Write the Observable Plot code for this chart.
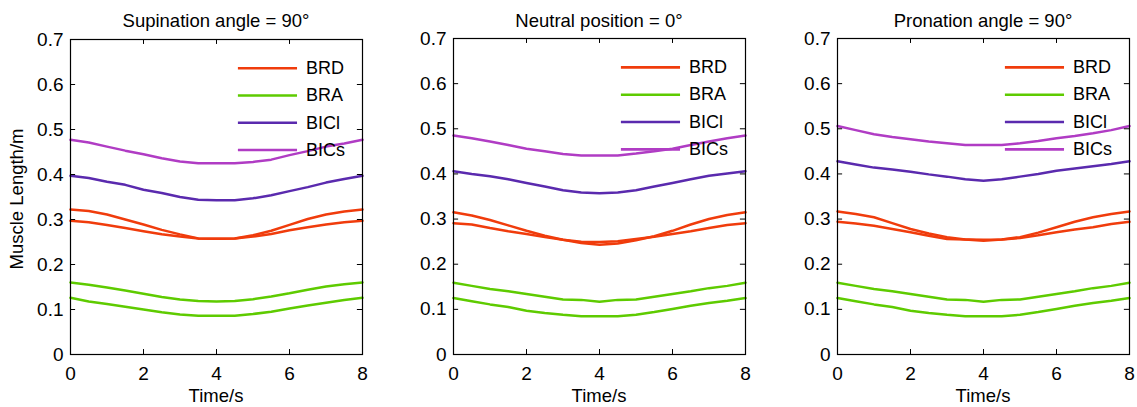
<!DOCTYPE html>
<html><head><meta charset="utf-8">
<script src="https://cdn.jsdelivr.net/npm/d3@7"></script>
<script src="https://cdn.jsdelivr.net/npm/@observablehq/plot@0.6"></script>
<style>
html,body{margin:0;padding:0;background:#fff;}
#wrap{position:relative;width:1137px;height:407px;overflow:hidden;font-family:"Liberation Sans",Arial,sans-serif;}
#wrap svg{position:absolute;top:0;}
.lbl{position:absolute;font-size:18.5px;line-height:1;color:#000;white-space:nowrap;}
</style></head>
<body><div id="wrap"></div>
<script>
const time = [0,0.5,1,1.5,2,2.5,3,3.5,4,4.5,5,5.5,6,6.5,7,7.5,8];
const titles = ["Supination angle = 90°","Neutral position = 0°","Pronation angle = 90°"];
const legendNames = ["BRD","BRA","BICl","BICs"];
const colors = {BRD:"#f03c0c",BRA:"#5ecb00",BICl:"#5a2aae",BICs:"#b03cc4"};
const xTicks = [0,2,4,6,8];
const yTicks = [0,0.1,0.2,0.3,0.4,0.5,0.6,0.7];

// Supination
const sup_BRD1 = [0.322,0.319,0.311,0.300,0.289,0.277,0.267,0.258,0.257,0.258,0.265,0.275,0.288,0.301,0.311,0.318,0.322];
const sup_BRD2 = [0.297,0.294,0.288,0.281,0.274,0.267,0.262,0.258,0.257,0.258,0.262,0.268,0.276,0.283,0.289,0.294,0.297];
const sup_BRA1 = [0.160,0.155,0.149,0.142,0.135,0.128,0.122,0.119,0.118,0.119,0.123,0.129,0.136,0.144,0.151,0.156,0.160];
const sup_BRA2 = [0.126,0.118,0.112,0.106,0.100,0.094,0.089,0.086,0.086,0.086,0.090,0.095,0.102,0.109,0.115,0.121,0.126];
const sup_BICl = [0.397,0.392,0.384,0.377,0.366,0.359,0.350,0.344,0.343,0.343,0.347,0.354,0.363,0.372,0.382,0.390,0.397];
const sup_BICs = [0.477,0.471,0.462,0.453,0.445,0.436,0.429,0.425,0.425,0.425,0.428,0.433,0.443,0.452,0.462,0.469,0.477];
// Neutral
const neu_BRD1 = [0.315,0.308,0.298,0.286,0.274,0.263,0.254,0.247,0.243,0.246,0.253,0.262,0.274,0.288,0.300,0.309,0.315];
const neu_BRD2 = [0.291,0.288,0.280,0.273,0.267,0.260,0.254,0.250,0.249,0.251,0.256,0.261,0.267,0.273,0.280,0.287,0.291];
const neu_BRA1 = [0.159,0.152,0.145,0.140,0.134,0.128,0.122,0.121,0.117,0.121,0.122,0.128,0.134,0.140,0.147,0.152,0.159];
const neu_BRA2 = [0.125,0.118,0.111,0.105,0.097,0.092,0.088,0.085,0.085,0.085,0.088,0.094,0.101,0.108,0.114,0.119,0.125];
const neu_BICl = [0.406,0.400,0.395,0.388,0.380,0.372,0.364,0.359,0.357,0.359,0.364,0.372,0.380,0.388,0.396,0.401,0.406];
const neu_BICs = [0.485,0.479,0.472,0.464,0.456,0.450,0.444,0.441,0.441,0.441,0.445,0.450,0.456,0.464,0.472,0.479,0.485];
// Pronation
const pro_BRD1 = [0.317,0.311,0.304,0.291,0.278,0.268,0.260,0.255,0.252,0.255,0.260,0.270,0.282,0.294,0.304,0.311,0.317];
const pro_BRD2 = [0.294,0.290,0.285,0.278,0.271,0.263,0.256,0.255,0.254,0.255,0.258,0.264,0.271,0.277,0.282,0.289,0.294];
const pro_BRA1 = [0.159,0.152,0.145,0.140,0.134,0.128,0.122,0.121,0.117,0.121,0.122,0.128,0.134,0.140,0.147,0.152,0.159];
const pro_BRA2 = [0.125,0.118,0.111,0.105,0.097,0.092,0.088,0.085,0.085,0.085,0.088,0.094,0.101,0.108,0.114,0.119,0.125];
const pro_BICl = [0.428,0.421,0.414,0.410,0.405,0.399,0.394,0.388,0.385,0.388,0.394,0.400,0.407,0.412,0.417,0.422,0.428];
const pro_BICs = [0.506,0.497,0.488,0.482,0.477,0.472,0.468,0.464,0.464,0.464,0.468,0.473,0.479,0.484,0.490,0.497,0.506];

const panels = [
  {series:[["BRD",sup_BRD1],["BRD",sup_BRD2],["BRA",sup_BRA1],["BRA",sup_BRA2],["BICl",sup_BICl],["BICs",sup_BICs]], left:0, top:39},
  {series:[["BRD",neu_BRD1],["BRD",neu_BRD2],["BRA",neu_BRA1],["BRA",neu_BRA2],["BICl",neu_BICl],["BICs",neu_BICs]], left:383, top:38},
  {series:[["BRD",pro_BRD1],["BRD",pro_BRD2],["BRA",pro_BRA1],["BRA",pro_BRA2],["BICl",pro_BICl],["BICs",pro_BICs]], left:767, top:38}
];

const wrap = document.getElementById("wrap");
const ML = 70, PW = 292, MR = 8, H = 407, MB = 53;

panels.forEach((p, pi) => {
  const rows = [];
  p.series.forEach(([name, vals], si) => vals.forEach((v, i) => rows.push({t: time[i], v, name, id: si})));
  const leg = legendNames.map((n, i) => ({name: n, y: 0.636 - i * 0.0605}));
  const tickLen = 0.011, tickLenX = 0.14;
  const chart = Plot.plot({
    width: ML + PW + MR, height: H,
    marginLeft: ML, marginRight: MR, marginTop: p.top, marginBottom: MB,
    style: {fontFamily: '"Liberation Sans", Arial, sans-serif', fontSize: "19px", background: "transparent", color: "#000"},
    x: {domain: [0, 8], ticks: xTicks, tickSize: 0, tickPadding: 12, label: null},
    y: {domain: [0, 0.7], ticks: yTicks, tickSize: 0, tickPadding: 7, label: null, tickFormat: d => d === 0 ? "0" : d3.format(".1f")(d)},
    marks: [
      Plot.line(rows, {x: "t", y: "v", z: "id", stroke: d => colors[d.name], strokeWidth: 2.5}),
      Plot.ruleY(leg, {x1: 4.6, x2: 6.22, y: "y", stroke: d => colors[d.name], strokeWidth: 2.6}),
      Plot.text(leg, {x: 6.45, y: "y", text: "name", textAnchor: "start", fontSize: 18, fill: "#000"}),
      Plot.ruleX(xTicks, {x: d => d, y1: 0, y2: tickLen, stroke: "#000"}),
      Plot.ruleX(xTicks, {x: d => d, y1: 0.7, y2: 0.7 - tickLen, stroke: "#000"}),
      Plot.ruleY(yTicks, {y: d => d, x1: 0, x2: tickLenX, stroke: "#000"}),
      Plot.ruleY(yTicks, {y: d => d, x1: 8, x2: 8 - tickLenX, stroke: "#000"}),
      Plot.frame({stroke: "#000", strokeWidth: 1.2})
    ]
  });
  chart.style.left = p.left + "px";
  wrap.appendChild(chart);

  const t = document.createElement("div");
  t.className = "lbl";
  t.textContent = titles[pi];
  t.style.left = (p.left + ML + PW / 2) + "px";
  t.style.top = "12px";
  t.style.transform = "translateX(-50%)";
  wrap.appendChild(t);

  const xl = document.createElement("div");
  xl.className = "lbl";
  xl.textContent = "Time/s";
  xl.style.left = (p.left + ML + PW / 2) + "px";
  xl.style.top = "387px";
  xl.style.transform = "translateX(-50%)";
  wrap.appendChild(xl);
});

const yl = document.createElement("div");
yl.className = "lbl";
yl.textContent = "Muscle Length/m";
yl.style.left = "17px";
yl.style.top = "199px";
yl.style.transform = "translate(-50%,-50%) rotate(-90deg)";
wrap.appendChild(yl);
</script>
</body></html>
